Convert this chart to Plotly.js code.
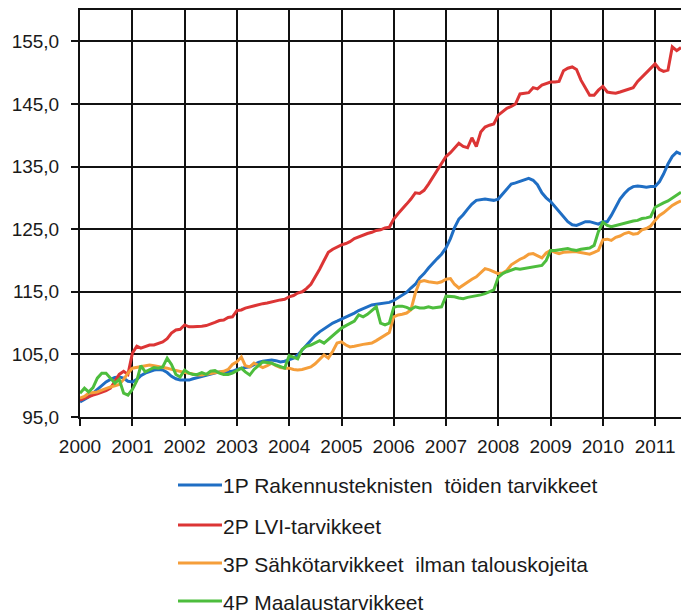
<!DOCTYPE html>
<html>
<head>
<meta charset="utf-8">
<script src="https://cdn.plot.ly/plotly-3.0.1.min.js"></script>
<style>html,body{margin:0;padding:0;background:#fff;}#chart{width:681px;height:616px;}</style>
</head>
<body>
<div id="chart"></div>
<script>
// Monthly index values, Jan 2000 - Jul 2011
const startYear = 2000;
const startMonth = 1;
const seriesNames = [
  "1P Rakennusteknisten  töiden tarvikkeet",
  "2P LVI-tarvikkeet",
  "3P Sähkötarvikkeet  ilman talouskojeita",
  "4P Maalaustarvikkeet"
];
const seriesColors = ["#1f6ec4", "#dc3535", "#f59e3a", "#4dbd3d"];

const blue = [
  97.4, 97.8, 98.2, 98.8, 99.4, 100.0, 100.6, 101.0, 101.3, 101.4, 101.2, 100.7,
  100.6, 101.0, 101.6, 102.0, 102.3, 102.5, 102.6, 102.5, 102.1, 101.5, 101.1, 100.9,
  100.9, 100.9, 101.1, 101.3, 101.5, 101.6, 101.8, 102.0, 102.2, 102.2, 102.2, 102.3,
  102.6, 102.8, 102.9, 103.0, 103.4, 103.7, 103.9, 104.0, 104.1, 104.0, 103.8, 103.9,
  104.1, 104.4, 104.9, 105.7, 106.6, 107.3, 108.0, 108.6, 109.1, 109.6, 110.0, 110.3,
  110.6, 110.9, 111.3, 111.6, 112.0, 112.3, 112.7, 112.9, 113.0, 113.1, 113.2, 113.3,
  113.6, 114.0, 114.4, 114.9, 115.6, 116.2, 117.2, 117.9, 118.8, 119.6, 120.3, 121.0,
  122.0, 123.5, 125.2, 126.6, 127.3, 128.2, 129.0, 129.6, 129.7, 129.8, 129.7, 129.6,
  129.8, 130.6, 131.5, 132.2, 132.4, 132.6, 132.8, 133.1, 132.8, 132.1, 130.8, 130.0,
  129.4, 128.6, 127.8, 127.0, 126.2, 125.7, 125.6, 125.9, 126.2, 126.2, 126.0, 125.8,
  126.2, 126.2, 127.2, 128.6, 129.8, 130.7, 131.4, 131.8, 131.9, 131.8, 131.7, 131.8,
  131.8, 132.6, 133.8, 135.4, 136.6, 137.3, 137.0
];
const red = [
  97.7, 98.0, 98.2, 98.5, 98.7, 98.9, 99.2, 99.6, 100.8, 101.8, 102.3, 101.8,
  105.2, 106.3, 106.0, 106.3, 106.5, 106.5, 106.7, 107.0, 107.5, 108.4, 108.9, 109.0,
  109.7, 109.4, 109.4, 109.4, 109.5, 109.6, 109.8, 110.1, 110.4, 110.5, 110.9, 111.0,
  112.0, 112.1, 112.4, 112.6, 112.8, 113.0, 113.1, 113.2, 113.4, 113.5, 113.7, 113.8,
  114.2, 114.4, 114.8, 115.0, 115.5, 116.2, 117.3, 118.6, 120.0, 121.3, 121.8, 122.2,
  122.5, 122.7, 123.0, 123.5, 123.8, 124.1, 124.3, 124.5, 124.8, 124.9, 125.2, 125.3,
  126.6, 127.5, 128.3, 129.0, 129.8, 130.8, 130.7, 131.2, 132.2, 133.3, 134.3, 135.6,
  136.6, 137.2, 138.0, 138.7, 138.2, 138.0, 139.6, 138.2, 140.5, 141.3, 141.6, 141.8,
  143.2, 143.8, 144.3, 144.6, 145.0, 146.6, 146.7, 146.8, 147.6, 147.4, 148.0, 148.3,
  148.5, 148.5, 148.6, 150.3, 150.7, 150.9, 150.5, 148.8, 147.5, 146.4, 146.4, 147.2,
  147.8, 146.9, 146.8, 146.7, 146.9, 147.1, 147.3, 147.6, 148.6, 149.3, 149.9, 150.6,
  151.4, 150.5, 150.2, 150.4, 154.1, 153.5, 154.0
];
const orange = [
  98.0, 98.3, 98.8, 98.9, 99.0, 99.3, 99.6, 99.8, 100.0, 100.2, 101.0, 102.0,
  102.8, 102.9, 103.0, 103.1, 103.3, 103.2, 103.1, 103.0, 102.8, 102.6, 102.4, 102.2,
  102.1, 102.0, 101.8, 101.7, 101.7, 101.8, 102.0, 102.1, 102.2, 102.3, 102.6, 103.4,
  103.8, 104.6, 103.2, 103.0, 103.6, 103.3, 102.9, 103.2, 103.6, 103.2, 102.9, 102.8,
  102.8, 102.6, 102.5, 102.6, 102.8, 103.0, 103.5, 104.2, 104.9, 104.4, 105.5, 106.8,
  107.0, 106.5, 106.2, 106.3, 106.5, 106.6, 106.7, 106.8, 107.2, 107.6, 108.0, 108.5,
  111.0, 111.3, 111.4, 111.6, 112.1, 114.8, 116.6, 116.8, 116.6, 116.5, 116.4, 116.6,
  117.0, 117.1, 116.2, 115.6, 116.1, 116.6, 117.0, 117.4, 118.0, 118.7, 118.5, 118.2,
  117.9, 118.0, 118.4, 119.3, 119.8, 120.2, 120.5, 121.0, 121.1, 120.8, 120.4, 121.2,
  121.6, 121.3, 121.1, 121.3, 121.4, 121.4, 121.4, 121.3, 121.2, 121.0, 121.3, 121.6,
  123.3, 123.4, 123.2, 123.7, 123.9, 124.3, 124.5, 124.2, 124.3, 124.9, 125.1, 125.5,
  126.4, 127.2, 127.6, 128.2, 128.8, 129.2, 129.5
];
const green = [
  98.8, 99.6, 99.0, 99.7, 101.2, 102.0, 102.0, 101.2, 100.4, 101.0, 98.8, 98.5,
  99.4, 100.8, 103.2, 102.2, 102.6, 102.9, 102.8, 103.0, 104.4, 103.4, 101.8, 101.4,
  102.5, 102.0, 101.8, 101.8, 102.1, 101.8, 102.3, 102.4, 102.0, 101.8, 101.8, 102.0,
  102.4, 102.8, 102.2, 101.7, 102.6, 103.2, 103.8, 103.7, 103.6, 103.3, 103.0, 102.8,
  104.8, 104.6, 104.3, 105.8, 106.3, 106.5, 106.9, 107.2, 106.8, 107.4, 107.9, 108.6,
  109.2, 109.6, 109.9, 110.3, 111.3, 111.0, 111.4, 112.0, 112.6, 110.0, 109.7, 110.0,
  112.5, 112.7, 112.7, 112.5, 112.2, 112.6, 112.4, 112.4, 112.6, 112.4, 112.5, 112.6,
  114.3, 114.3, 114.2, 114.0, 113.9, 114.1, 114.2, 114.3, 114.5, 114.7, 115.0, 115.3,
  117.3, 117.9, 118.2, 118.4, 118.7, 118.6, 118.7, 118.8, 119.0, 119.1, 119.2, 120.0,
  121.6, 121.6, 121.7, 121.8, 121.9, 121.7, 121.6, 121.8, 121.9, 122.0, 122.4, 124.6,
  126.1, 125.6, 125.4, 125.6, 125.8, 125.9, 126.2, 126.3, 126.4, 126.7, 126.8, 127.0,
  128.5, 128.9, 129.2, 129.5, 130.0, 130.4, 130.9
];
const yTickVals = [95, 105, 115, 125, 135, 145, 155];

function monthDates(n) {
  const out = [];
  for (let i = 0; i < n; i++) {
    const m0 = startMonth - 1 + i;
    const y = startYear + Math.floor(m0 / 12);
    const m = (m0 % 12) + 1;
    out.push(y + "-" + String(m).padStart(2, "0") + "-01");
  }
  return out;
}

const allSeries = [blue, red, orange, green];
const traces = allSeries.map((vals, k) => ({
  type: "scatter",
  mode: "lines",
  x: monthDates(vals.length),
  y: vals,
  name: seriesNames[k],
  line: { color: seriesColors[k], width: 3 }
}));

// Legend drawn below the plot (paper coordinates), one row per series
const W = 681, H = 616;
const M = { l: 80, r: 0, t: 10, b: 199 };
const plotW = W - M.l - M.r, plotH = H - M.t - M.b;
const px2x = p => (p - M.l) / plotW;
const px2y = p => 1 - (p - M.t) / plotH;
const legendRowsPx = [485, 525, 563, 601];
const legendLineX = [178, 222];
const legendTextX = 221;

const shapes = seriesNames.map((n, k) => ({
  type: "line", xref: "paper", yref: "paper",
  x0: px2x(legendLineX[0]), x1: px2x(legendLineX[1]),
  y0: px2y(legendRowsPx[k]), y1: px2y(legendRowsPx[k]),
  line: { color: seriesColors[k], width: 3 }
}));
const annotations = seriesNames.map((n, k) => ({
  xref: "paper", yref: "paper",
  x: px2x(legendTextX), y: px2y(legendRowsPx[k] + 1),
  xanchor: "left", yanchor: "middle",
  text: n, showarrow: false,
  font: { family: "Liberation Sans, Arial, sans-serif", size: 21, color: "#1a1a1a" }
}));

const font = { family: "Liberation Sans, Arial, sans-serif", size: 19, color: "#1a1a1a" };
const axisCommon = {
  showgrid: true, gridcolor: "#111111", gridwidth: 2,
  showline: true, linecolor: "#111111", linewidth: 2,
  ticks: "outside", ticklen: 7, tickwidth: 2, tickcolor: "#111111",
  zeroline: false, tickfont: font
};

const layout = {
  width: W, height: H,
  margin: { l: M.l, r: M.r, t: M.t, b: M.b, pad: 0 },
  paper_bgcolor: "#ffffff", plot_bgcolor: "#ffffff",
  separators: ", ",
  font: font,
  showlegend: false,
  shapes: shapes,
  annotations: annotations,
  xaxis: Object.assign({}, axisCommon, {
    type: "date",
    range: ["2000-01-01", "2011-07-01"],
    tick0: "2000-01-01", dtick: "M12", tickformat: "%Y",
    mirror: true, ticklabelstandoff: 4
  }),
  yaxis: Object.assign({}, axisCommon, {
    range: [95, 160],
    tickmode: "array", tickvals: yTickVals,
    tickformat: ".1f", ticklabelstandoff: 8
  })
};

Plotly.newPlot("chart", traces, layout, { displayModeBar: false, staticPlot: true });
</script>
</body>
</html>
